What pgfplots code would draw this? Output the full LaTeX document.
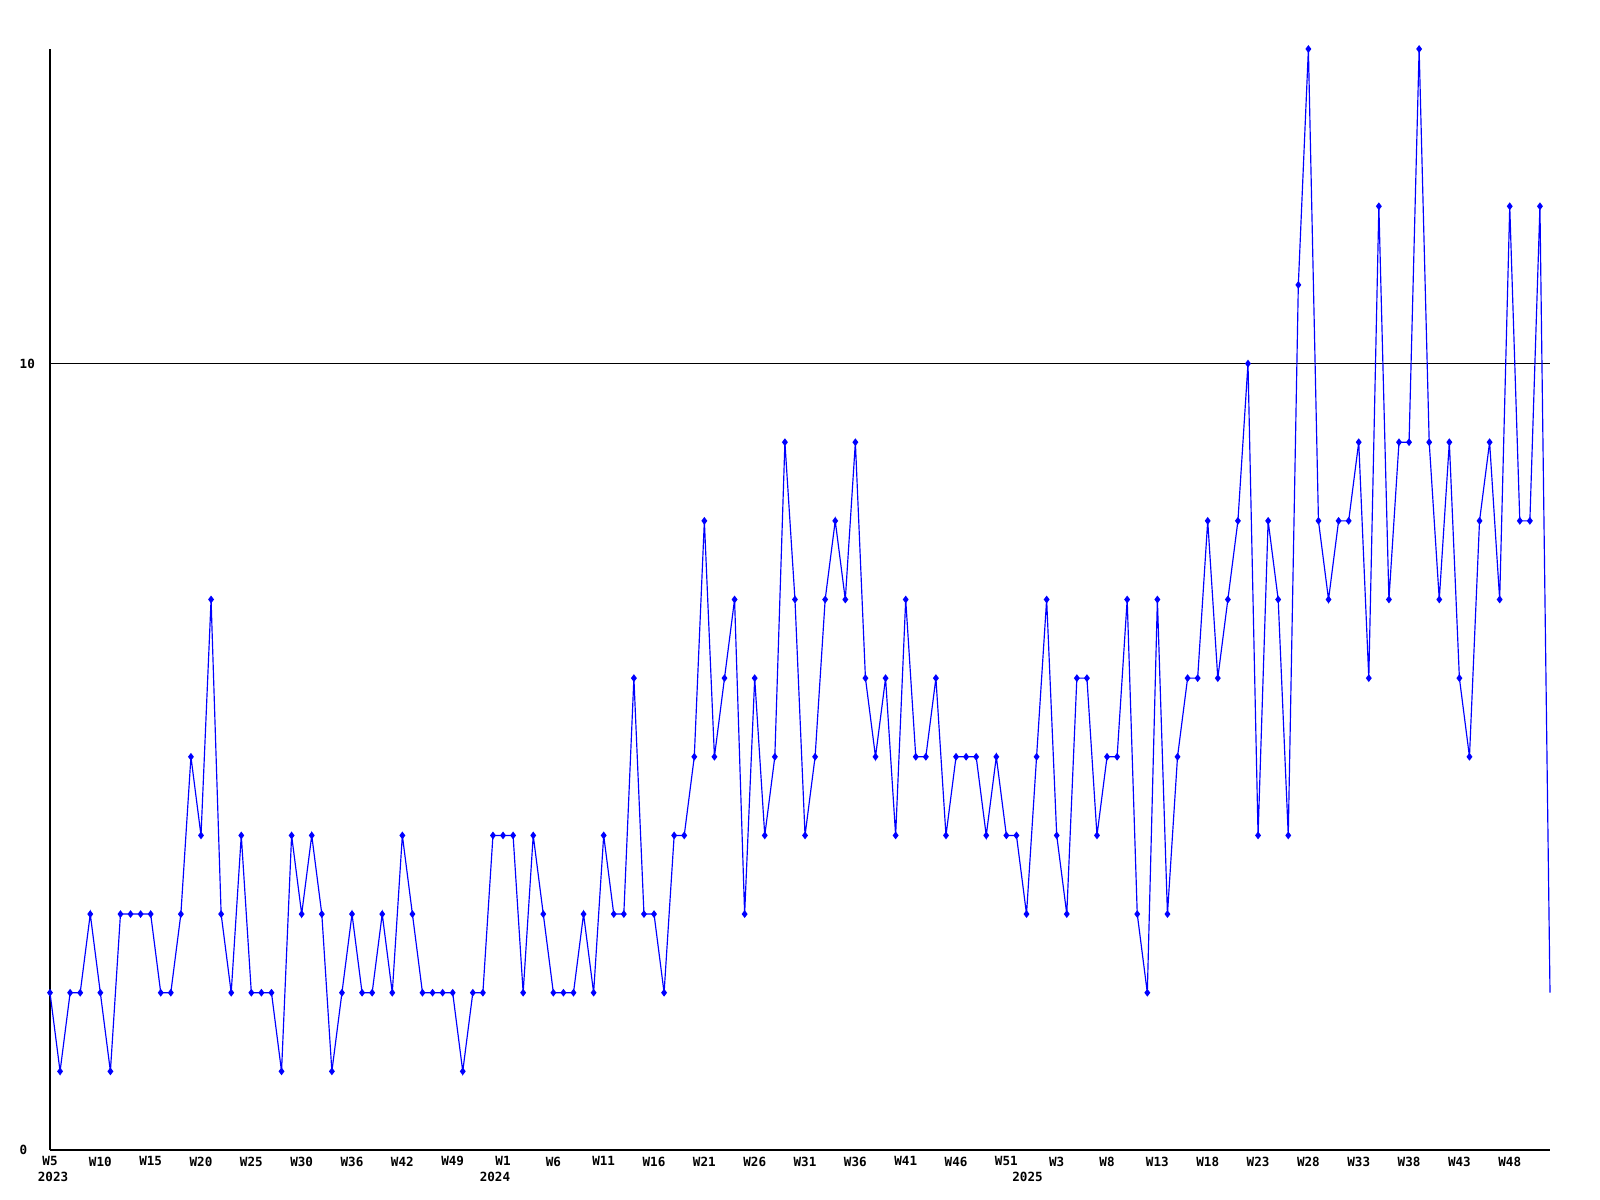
\documentclass[border=0pt]{standalone}
\usepackage{pgfplots}
\usepackage{pgfplotstable}
\pgfplotsset{compat=1.18}
\usepackage{fontspec}
\setmonofont{DejaVu Sans Mono}
\newcommand{\lblfont}{\fontsize{3.8}{4.2}\selectfont\ttfamily\bfseries}
\pgfplotstableread{
x y
0 2
1 1
2 2
3 2
4 3
5 2
6 1
7 3
8 3
9 3
10 3
11 2
12 2
13 3
14 5
15 4
16 7
17 3
18 2
19 4
20 2
21 2
22 2
23 1
24 4
25 3
26 4
27 3
28 1
29 2
30 3
31 2
32 2
33 3
34 2
35 4
36 3
37 2
38 2
39 2
40 2
41 1
42 2
43 2
44 4
45 4
46 4
47 2
48 4
49 3
50 2
51 2
52 2
53 3
54 2
55 4
56 3
57 3
58 6
59 3
60 3
61 2
62 4
63 4
64 5
65 8
66 5
67 6
68 7
69 3
70 6
71 4
72 5
73 9
74 7
75 4
76 5
77 7
78 8
79 7
80 9
81 6
82 5
83 6
84 4
85 7
86 5
87 5
88 6
89 4
90 5
91 5
92 5
93 4
94 5
95 4
96 4
97 3
98 5
99 7
100 4
101 3
102 6
103 6
104 4
105 5
106 5
107 7
108 3
109 2
110 7
111 3
112 5
113 6
114 6
115 8
116 6
117 7
118 8
119 10
120 4
121 8
122 7
123 4
124 11
125 14
126 8
127 7
128 8
129 8
130 9
131 6
132 12
133 7
134 9
135 9
136 14
137 9
138 7
139 9
140 6
141 5
142 8
143 9
144 7
145 12
146 8
147 8
148 12
149 2
}\datatable
\begin{document}
\begin{tikzpicture}
\begin{axis}[name=ax, scale only axis, width=450bp, height=330.3bp,
  xmin=0, xmax=149, ymin=0, ymax=14,
  axis x line*=bottom, axis y line*=left,
  axis line style={black, line width=0.45bp},
  ytick={0,10}, ymajorgrids, grid style={black, line width=0.3bp},
  major tick length=0pt,
  xtick={0,5,...,145},
  xticklabels={W5,W10,W15,W20,W25,W30,W36,W42,W49,W1,W6,W11,W16,W21,W26,W31,W36,W41,W46,W51,W3,W8,W13,W18,W23,W28,W33,W38,W43,W48},
  tick label style={font=\lblfont},
  /pgf/number format/assume math mode=true,
  xticklabel style={anchor=north, inner sep=0pt, yshift=-1.8bp},
  yticklabel style={anchor=west, inner sep=0pt, xshift=-9.3bp},
  clip=false]
\addplot[color={rgb,255:red,0;green,0;blue,255}, line width=0.35bp, mark=none] table[x=x,y=y] {\datatable};
\addplot[color={rgb,255:red,0;green,0;blue,255}, only marks, mark=diamond*, mark size=0.85bp, restrict x to domain=0:148] table[x=x,y=y] {\datatable};
\node[font=\lblfont, inner sep=0pt, anchor=center, yshift=-8.1bp] at (axis cs:0.3,0) {2023};
\node[font=\lblfont, inner sep=0pt, anchor=center, yshift=-8.1bp] at (axis cs:44.2,0) {2024};
\node[font=\lblfont, inner sep=0pt, anchor=center, yshift=-8.1bp] at (axis cs:97.1,0) {2025};
\end{axis}
\pgfresetboundingbox
\path[use as bounding box] ([xshift=-15bp,yshift=-15bp]ax.south west) rectangle ([xshift=15bp,yshift=14.7bp]ax.north east);
\end{tikzpicture}
\end{document}
